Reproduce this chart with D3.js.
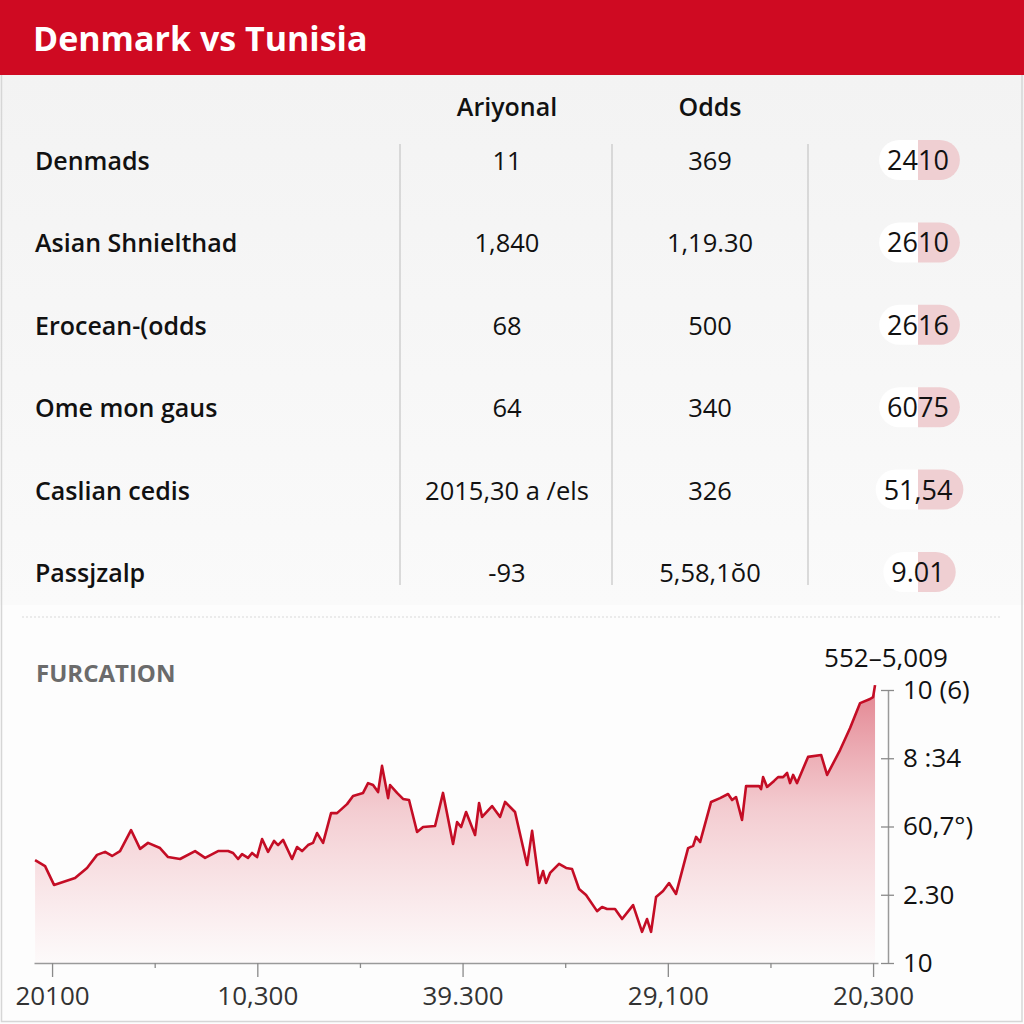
<!DOCTYPE html>
<html>
<head>
<meta charset="utf-8">
<script src="https://cdn.jsdelivr.net/npm/d3@7"></script>
<style>
  html, body { margin: 0; padding: 0; background: #ffffff; }
  svg { display: block; }
</style>
</head>
<body>
<script>
// ---------- DATA ----------
const title = "Denmark vs Tunisia";
const columnHeaders = ["Ariyonal", "Odds"];
const rowLabels = ["Denmads", "Asian Shnielthad", "Erocean-(odds", "Ome mon gaus", "Caslian cedis", "Passjzalp"];
const col1Values = ["11", "1,840", "68", "64", "2015,30 a /els", "-93"];
const col2Values = ["369", "1,19.30", "500", "340", "326", "5,58,1ŏ0"];
const badgeValues = ["2410", "2610", "2616", "6075", "51,54", "9.01"];

const chartTitle = "FURCATION";
const rangeLabel = "552–5,009";
const xTickValues = [0, 12.5, 25, 37.5, 50, 62.5, 75, 87.5, 100];
const xTickLabels = ["20100", "", "10,300", "", "39.300", "", "29,100", "", "20,300"];
const yTickValues = [0, 25, 50, 75, 100];
const yTickLabels = ["10", "2.30", "60,7°)", "8 :34", "10 (6)"];

const seriesX = [-2.07,-0.85,0.24,2.80,4.26,5.48,6.46,7.31,8.28,9.62,10.72,11.69,13.15,14.13,15.59,17.42,18.64,20.22,21.44,22.05,22.66,23.14,23.87,24.36,24.97,25.58,26.31,27.04,27.53,28.14,29.23,29.84,30.45,31.18,31.79,32.28,33.01,33.98,34.71,35.93,36.66,37.88,38.49,39.10,39.71,40.19,40.93,41.17,42.02,42.75,43.48,44.46,45.19,46.65,47.62,48.84,49.33,49.82,50.43,51.52,52.01,52.38,53.59,54.57,55.18,56.39,57.86,58.47,59.32,59.81,60.17,60.66,61.75,62.61,63.34,64.19,65.04,66.38,66.99,67.60,68.57,69.43,70.77,71.86,72.47,72.96,73.57,74.42,75.15,76.00,77.47,78.08,78.44,78.93,80.27,81.36,82.34,82.83,83.31,84.04,84.53,86.11,86.36,86.60,87.09,87.94,88.43,89.04,89.53,89.89,90.26,90.74,92.08,93.67,94.40,95.98,97.20,98.42,99.63,100.00,100.24];
const seriesY = [37.7,35.5,28.6,31.1,34.8,39.6,40.7,39.2,41.0,48.7,41.8,44.0,42.1,38.8,38.1,41.0,38.5,41.0,41.0,40.3,38.1,39.9,38.5,40.3,38.8,45.4,40.7,44.7,43.2,45.1,38.1,42.5,41.0,43.2,44.0,47.6,44.0,54.9,54.9,58.2,61.2,62.3,65.9,65.2,62.6,72.2,60.4,65.2,62.3,60.1,59.7,48.0,49.8,50.2,62.3,43.6,51.6,49.8,55.3,46.9,58.6,53.5,57.5,53.5,59.0,55.3,35.9,48.4,29.3,33.7,29.3,33.0,36.3,34.8,34.4,27.1,24.9,19.0,20.5,19.8,19.8,16.1,21.2,11.4,16.1,11.4,24.2,26.4,29.3,25.3,42.1,42.9,46.2,44.3,59.0,60.4,61.9,59.7,60.8,52.4,64.8,64.8,63.7,68.1,64.5,66.7,68.1,68.1,69.6,65.9,68.9,65.9,75.5,76.2,68.9,78.0,86.1,95.2,96.7,97.4,101.8];

// ---------- LAYOUT ----------
const W = 1024, H = 1024;
const svg = d3.select("body").append("svg").attr("width", W).attr("height", H);
const defs = svg.append("defs");
const FONT = "'Open Sans', 'Noto Sans', sans-serif";

// background
svg.append("rect").attr("width", W).attr("height", H).attr("fill", "#ffffff");
const tableGrad = defs.append("linearGradient").attr("id", "tableBg").attr("x1", 0).attr("y1", 0).attr("x2", 0).attr("y2", 1);
tableGrad.append("stop").attr("offset", "0%").attr("stop-color", "#f3f3f3");
tableGrad.append("stop").attr("offset", "100%").attr("stop-color", "#fafafa");
svg.append("rect").attr("x", 0).attr("y", 75).attr("width", W).attr("height", 530).attr("fill", "url(#tableBg)");
svg.append("rect").attr("x", 0).attr("y", 605).attr("width", W).attr("height", 419).attr("fill", "#fdfdfd");

// frame
svg.append("rect").attr("x", 1.5).attr("y", 1.5).attr("width", W - 3.5).attr("height", H - 4)
  .attr("fill", "none").attr("stroke", "#d6d6d6").attr("stroke-width", 1.5);

// header band
svg.append("rect").attr("x", 0).attr("y", 0).attr("width", W).attr("height", 75).attr("fill", "#cf0a22");
svg.append("text").attr("x", 33).attr("y", 51).text(title)
  .attr("font-family", FONT).attr("font-weight", 700).attr("font-size", 34).attr("fill", "#ffffff");

// ---------- TABLE ----------
const colX = [507, 710];
const badgeX = 918;
const rowBase = d3.scaleLinear().domain([0, rowLabels.length - 1]).range([170, 582]);

svg.selectAll("text.colhead").data(columnHeaders).join("text")
  .attr("class", "colhead")
  .attr("x", (d, i) => colX[i]).attr("y", 116)
  .attr("text-anchor", "middle")
  .attr("font-family", FONT).attr("font-weight", 600).attr("font-size", 25).attr("fill", "#111")
  .text(d => d);

// separators
[400, 612, 808].forEach(x => {
  svg.append("line").attr("x1", x).attr("x2", x).attr("y1", 144).attr("y2", 585)
    .attr("stroke", "#cfcfcf").attr("stroke-width", 1.5);
});

const rows = svg.selectAll("g.row").data(rowLabels).join("g").attr("class", "row");
rows.append("text").attr("x", 35).attr("y", (d, i) => rowBase(i))
  .attr("font-family", FONT).attr("font-weight", 600).attr("font-size", 25).attr("fill", "#111")
  .text(d => d);
rows.append("text").attr("x", colX[0]).attr("y", (d, i) => rowBase(i))
  .attr("text-anchor", "middle")
  .attr("font-family", FONT).attr("font-size", 25.5).attr("fill", "#111")
  .text((d, i) => col1Values[i]);
rows.append("text").attr("x", colX[1]).attr("y", (d, i) => rowBase(i))
  .attr("text-anchor", "middle")
  .attr("font-family", FONT).attr("font-size", 25.5).attr("fill", "#111")
  .text((d, i) => col2Values[i]);

// badges
rows.each(function (d, i) {
  const g = d3.select(this);
  const bg = g.append("g");
  const t = g.append("text").attr("x", badgeX).attr("y", rowBase(i))
    .attr("text-anchor", "middle")
    .attr("font-family", FONT).attr("font-size", 27).attr("fill", "#111")
    .text(badgeValues[i]);
  const w = t.node().getComputedTextLength();
  const left = badgeX - w / 2 - 8, right = badgeX + w / 2 + 11;
  const cy = rowBase(i) - 10, h = 40, r = 20;
  const top = cy - h / 2;
  bg.append("path")
    .attr("d", `M${badgeX},${top} L${left + r},${top} A${r},${r} 0 0 0 ${left + r},${top + h} L${badgeX},${top + h} Z`)
    .attr("fill", "#ffffff").attr("opacity", 0.95);
  bg.append("path")
    .attr("d", `M${badgeX},${top} L${right - r},${top} A${r},${r} 0 0 1 ${right - r},${top + h} L${badgeX},${top + h} Z`)
    .attr("fill", "#efcfd2");
});

// dashed divider
svg.append("line").attr("x1", 22).attr("x2", 1002).attr("y1", 617).attr("y2", 617)
  .attr("stroke", "#d9d9d9").attr("stroke-width", 1).attr("stroke-dasharray", "2,2");

// ---------- CHART ----------
svg.append("text").attr("x", 36).attr("y", 682).text(chartTitle)
  .attr("font-family", FONT).attr("font-weight", 700).attr("font-size", 24).attr("fill", "#6b6b6b");

const x = d3.scaleLinear().domain([-2.2, 100.6]).range([34, 878]);
const y = d3.scaleLinear().domain([0, 100]).range([963, 690]);
const series = seriesX.map((v, i) => ({ x: v, y: seriesY[i] }));

const areaGrad = defs.append("linearGradient").attr("id", "areaFill")
  .attr("gradientUnits", "userSpaceOnUse").attr("x1", 0).attr("x2", 0).attr("y1", y(102)).attr("y2", y(0));
areaGrad.append("stop").attr("offset", "0%").attr("stop-color", "#cc1f35").attr("stop-opacity", 0.55);
areaGrad.append("stop").attr("offset", "45%").attr("stop-color", "#d63a4c").attr("stop-opacity", 0.25);
areaGrad.append("stop").attr("offset", "100%").attr("stop-color", "#e86070").attr("stop-opacity", 0.02);

svg.append("path").datum(series)
  .attr("d", d3.area().x(d => x(d.x)).y0(y(0)).y1(d => y(d.y)))
  .attr("fill", "url(#areaFill)");
svg.append("path").datum(series)
  .attr("d", d3.line().x(d => x(d.x)).y(d => y(d.y)))
  .attr("fill", "none").attr("stroke", "#c40d25").attr("stroke-width", 2.6).attr("stroke-linejoin", "round");

// x axis
const xAxis = svg.append("g").attr("transform", `translate(0,${y(0)})`)
  .call(d3.axisBottom(x).tickValues(xTickValues)
    .tickSizeInner(14).tickSizeOuter(0).tickPadding(10).tickFormat((d, i) => xTickLabels[i]));
xAxis.select(".domain").attr("stroke", "#9a9a9a").attr("stroke-width", 1.5);
xAxis.selectAll(".tick line").attr("stroke", "#8a8a8a").attr("stroke-width", 1.3)
  .attr("y2", (d, i) => xTickLabels[i] ? 14 : 5);
xAxis.selectAll(".tick text").attr("font-family", FONT).attr("font-size", 26).attr("fill", "#333");

// y axis (right)
const yAxis = svg.append("g").attr("transform", `translate(888,0)`)
  .call(d3.axisRight(y).tickValues(yTickValues)
    .tickSizeInner(6).tickSizeOuter(0).tickPadding(9).tickFormat((d, i) => yTickLabels[i]));
yAxis.select(".domain").attr("stroke", "#9a9a9a").attr("stroke-width", 1.5);
yAxis.selectAll(".tick line").attr("x1", -7).attr("stroke", "#8a8a8a").attr("stroke-width", 1.3);
yAxis.selectAll(".tick text").attr("font-family", FONT).attr("font-size", 26).attr("fill", "#111");

svg.append("text").attr("x", 886).attr("y", 667).attr("text-anchor", "middle").text(rangeLabel)
  .attr("font-family", FONT).attr("font-size", 26).attr("fill", "#111");
</script>
</body>
</html>
